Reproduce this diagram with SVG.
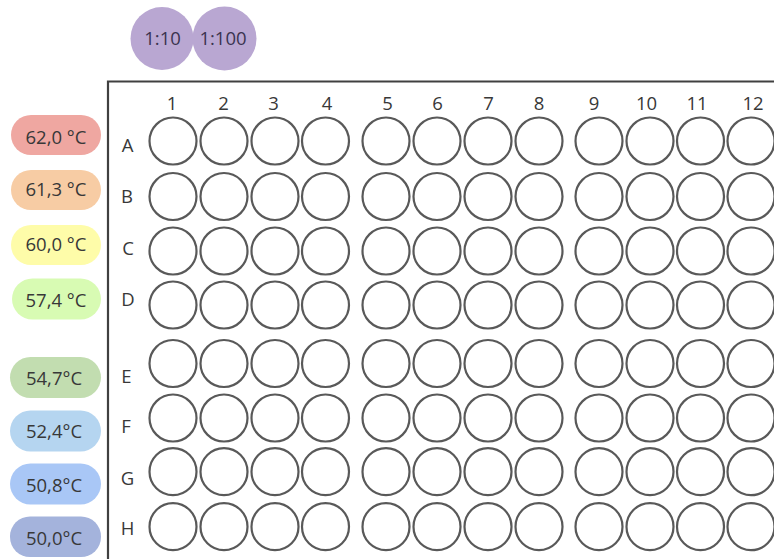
<svg xmlns="http://www.w3.org/2000/svg" width="774" height="559" viewBox="0 0 774 559">
<style>
  .t { font-family: "Open Sans", "Liberation Sans", sans-serif; font-size: 18.5px; fill: #383838; }
  .c { text-anchor: middle; }
  .well { fill: #ffffff; stroke: #595959; stroke-width: 2.2; }
  .pill { stroke: none; }
  .dil { fill: #b9a7d2; }
  .dt { font-family: "Open Sans", "Liberation Sans", sans-serif; font-size: 18.5px; fill: #3b3450; text-anchor: middle; }
</style>
<rect width="774" height="559" fill="#ffffff"/>
<g id="dilution-1-10"><circle class="dil" cx="162" cy="38.5" r="31.5"/><text class="dt" x="162.5" y="45">1:10</text></g>
<g id="dilution-1-100"><circle class="dil" cx="224.5" cy="38.5" r="32"/><text class="dt" x="223" y="45">1:100</text></g>
<g id="plate">
  <path d="M108 559 V81.5 H774" fill="none" stroke="#404040" stroke-width="2.2"/>
</g>
<g id="column-labels">
  <text class="t c" x="172" y="109.5">1</text>
  <text class="t c" x="223.5" y="109.5">2</text>
  <text class="t c" x="273.5" y="109.5">3</text>
  <text class="t c" x="327" y="109.5">4</text>
  <text class="t c" x="387.5" y="109.5">5</text>
  <text class="t c" x="437.5" y="109.5">6</text>
  <text class="t c" x="488.5" y="109.5">7</text>
  <text class="t c" x="539" y="109.5">8</text>
  <text class="t c" x="594" y="109.5">9</text>
  <text class="t c" x="646.5" y="109.5">10</text>
  <text class="t c" x="697" y="109.5">11</text>
  <text class="t c" x="753" y="109.5">12</text>
</g>
<g id="row-labels">
  <text class="t c" x="127.5" y="151.5">A</text>
  <text class="t c" x="127" y="203.3">B</text>
  <text class="t c" x="128" y="255">C</text>
  <text class="t c" x="128" y="305.7">D</text>
  <text class="t c" x="126.5" y="383.3">E</text>
  <text class="t c" x="126" y="433">F</text>
  <text class="t c" x="127.5" y="485">G</text>
  <text class="t c" x="127.5" y="535">H</text>
</g>
<g id="temp-62-0"><rect class="pill" x="11" y="115" width="90" height="40" rx="20" fill="#efa7a1"/><text class="t c" x="56" y="144">62,0 °C</text></g>
<g id="temp-61-3"><rect class="pill" x="11" y="170" width="90" height="40" rx="20" fill="#f7cca4"/><text class="t c" x="56" y="196">61,3 °C</text></g>
<g id="temp-60-0"><rect class="pill" x="11" y="225" width="90" height="40" rx="20" fill="#fefca9"/><text class="t c" x="56" y="250.7">60,0 °C</text></g>
<g id="temp-57-4"><rect class="pill" x="12" y="278.5" width="89" height="41" rx="20.5" fill="#d8fbb3"/><text class="t c" x="56" y="307.3">57,4 °C</text></g>
<g id="temp-54-7"><rect class="pill" x="10" y="357" width="91" height="41" rx="20.5" fill="#c2ddb0"/><text class="t c" x="54" y="385">54,7°C</text></g>
<g id="temp-52-4"><rect class="pill" x="10" y="410.5" width="91" height="41" rx="20.5" fill="#b5d5f0"/><text class="t c" x="54" y="438.3">52,4°C</text></g>
<g id="temp-50-8"><rect class="pill" x="10" y="463.5" width="91" height="41" rx="20.5" fill="#a9c7f6"/><text class="t c" x="54" y="491.7">50,8°C</text></g>
<g id="temp-50-0"><rect class="pill" x="10" y="516.5" width="91" height="40.5" rx="20" fill="#a4b3dc"/><text class="t c" x="54" y="545">50,0°C</text></g>
<g id="wells">
<g id="row-A">
<circle id="A1" class="well" cx="173" cy="141" r="23.5"/><circle id="A2" class="well" cx="224" cy="141" r="23.5"/><circle id="A3" class="well" cx="275" cy="141" r="23.5"/><circle id="A4" class="well" cx="325.5" cy="141" r="23.5"/><circle id="A5" class="well" cx="386" cy="141" r="23.5"/><circle id="A6" class="well" cx="437" cy="141" r="23.5"/><circle id="A7" class="well" cx="488" cy="141" r="23.5"/><circle id="A8" class="well" cx="539" cy="141" r="23.5"/><circle id="A9" class="well" cx="599" cy="141" r="23.5"/><circle id="A10" class="well" cx="650" cy="141" r="23.5"/><circle id="A11" class="well" cx="700.5" cy="141" r="23.5"/><circle id="A12" class="well" cx="751" cy="141" r="23.5"/>
</g>
<g id="row-B">
<circle id="B1" class="well" cx="173" cy="196.5" r="23.5"/><circle id="B2" class="well" cx="224" cy="196.5" r="23.5"/><circle id="B3" class="well" cx="275" cy="196.5" r="23.5"/><circle id="B4" class="well" cx="325.5" cy="196.5" r="23.5"/><circle id="B5" class="well" cx="386" cy="196.5" r="23.5"/><circle id="B6" class="well" cx="437" cy="196.5" r="23.5"/><circle id="B7" class="well" cx="488" cy="196.5" r="23.5"/><circle id="B8" class="well" cx="539" cy="196.5" r="23.5"/><circle id="B9" class="well" cx="599" cy="196.5" r="23.5"/><circle id="B10" class="well" cx="650" cy="196.5" r="23.5"/><circle id="B11" class="well" cx="700.5" cy="196.5" r="23.5"/><circle id="B12" class="well" cx="751" cy="196.5" r="23.5"/>
</g>
<g id="row-C">
<circle id="C1" class="well" cx="173" cy="251" r="23.5"/><circle id="C2" class="well" cx="224" cy="251" r="23.5"/><circle id="C3" class="well" cx="275" cy="251" r="23.5"/><circle id="C4" class="well" cx="325.5" cy="251" r="23.5"/><circle id="C5" class="well" cx="386" cy="251" r="23.5"/><circle id="C6" class="well" cx="437" cy="251" r="23.5"/><circle id="C7" class="well" cx="488" cy="251" r="23.5"/><circle id="C8" class="well" cx="539" cy="251" r="23.5"/><circle id="C9" class="well" cx="599" cy="251" r="23.5"/><circle id="C10" class="well" cx="650" cy="251" r="23.5"/><circle id="C11" class="well" cx="700.5" cy="251" r="23.5"/><circle id="C12" class="well" cx="751" cy="251" r="23.5"/>
</g>
<g id="row-D">
<circle id="D1" class="well" cx="173" cy="305" r="23.5"/><circle id="D2" class="well" cx="224" cy="305" r="23.5"/><circle id="D3" class="well" cx="275" cy="305" r="23.5"/><circle id="D4" class="well" cx="325.5" cy="305" r="23.5"/><circle id="D5" class="well" cx="386" cy="305" r="23.5"/><circle id="D6" class="well" cx="437" cy="305" r="23.5"/><circle id="D7" class="well" cx="488" cy="305" r="23.5"/><circle id="D8" class="well" cx="539" cy="305" r="23.5"/><circle id="D9" class="well" cx="599" cy="305" r="23.5"/><circle id="D10" class="well" cx="650" cy="305" r="23.5"/><circle id="D11" class="well" cx="700.5" cy="305" r="23.5"/><circle id="D12" class="well" cx="751" cy="305" r="23.5"/>
</g>
<g id="row-E">
<circle id="E1" class="well" cx="173" cy="363.5" r="23.5"/><circle id="E2" class="well" cx="224" cy="363.5" r="23.5"/><circle id="E3" class="well" cx="275" cy="363.5" r="23.5"/><circle id="E4" class="well" cx="325.5" cy="363.5" r="23.5"/><circle id="E5" class="well" cx="386" cy="363.5" r="23.5"/><circle id="E6" class="well" cx="437" cy="363.5" r="23.5"/><circle id="E7" class="well" cx="488" cy="363.5" r="23.5"/><circle id="E8" class="well" cx="539" cy="363.5" r="23.5"/><circle id="E9" class="well" cx="599" cy="363.5" r="23.5"/><circle id="E10" class="well" cx="650" cy="363.5" r="23.5"/><circle id="E11" class="well" cx="700.5" cy="363.5" r="23.5"/><circle id="E12" class="well" cx="751" cy="363.5" r="23.5"/>
</g>
<g id="row-F">
<circle id="F1" class="well" cx="173" cy="418" r="23.5"/><circle id="F2" class="well" cx="224" cy="418" r="23.5"/><circle id="F3" class="well" cx="275" cy="418" r="23.5"/><circle id="F4" class="well" cx="325.5" cy="418" r="23.5"/><circle id="F5" class="well" cx="386" cy="418" r="23.5"/><circle id="F6" class="well" cx="437" cy="418" r="23.5"/><circle id="F7" class="well" cx="488" cy="418" r="23.5"/><circle id="F8" class="well" cx="539" cy="418" r="23.5"/><circle id="F9" class="well" cx="599" cy="418" r="23.5"/><circle id="F10" class="well" cx="650" cy="418" r="23.5"/><circle id="F11" class="well" cx="700.5" cy="418" r="23.5"/><circle id="F12" class="well" cx="751" cy="418" r="23.5"/>
</g>
<g id="row-G">
<circle id="G1" class="well" cx="173" cy="471.7" r="23.5"/><circle id="G2" class="well" cx="224" cy="471.7" r="23.5"/><circle id="G3" class="well" cx="275" cy="471.7" r="23.5"/><circle id="G4" class="well" cx="325.5" cy="471.7" r="23.5"/><circle id="G5" class="well" cx="386" cy="471.7" r="23.5"/><circle id="G6" class="well" cx="437" cy="471.7" r="23.5"/><circle id="G7" class="well" cx="488" cy="471.7" r="23.5"/><circle id="G8" class="well" cx="539" cy="471.7" r="23.5"/><circle id="G9" class="well" cx="599" cy="471.7" r="23.5"/><circle id="G10" class="well" cx="650" cy="471.7" r="23.5"/><circle id="G11" class="well" cx="700.5" cy="471.7" r="23.5"/><circle id="G12" class="well" cx="751" cy="471.7" r="23.5"/>
</g>
<g id="row-H">
<circle id="H1" class="well" cx="173" cy="526.7" r="23.5"/><circle id="H2" class="well" cx="224" cy="526.7" r="23.5"/><circle id="H3" class="well" cx="275" cy="526.7" r="23.5"/><circle id="H4" class="well" cx="325.5" cy="526.7" r="23.5"/><circle id="H5" class="well" cx="386" cy="526.7" r="23.5"/><circle id="H6" class="well" cx="437" cy="526.7" r="23.5"/><circle id="H7" class="well" cx="488" cy="526.7" r="23.5"/><circle id="H8" class="well" cx="539" cy="526.7" r="23.5"/><circle id="H9" class="well" cx="599" cy="526.7" r="23.5"/><circle id="H10" class="well" cx="650" cy="526.7" r="23.5"/><circle id="H11" class="well" cx="700.5" cy="526.7" r="23.5"/><circle id="H12" class="well" cx="751" cy="526.7" r="23.5"/>
</g>
</g>
<g id="connectors"></g>
</svg>
